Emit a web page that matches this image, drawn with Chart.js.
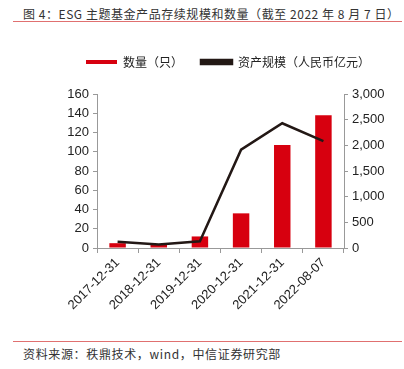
<!DOCTYPE html>
<html>
<head>
<meta charset="utf-8">
<script src="https://cdn.jsdelivr.net/npm/chart.js@4"></script>
<style>
  body { margin: 0; width: 404px; height: 369px; background: #fff; position: relative; overflow: hidden; font-family: "Noto Sans CJK SC", sans-serif; }
  #title { position: absolute; left: 23px; top: 5px; font-size: 12px; letter-spacing: 0.55px; color: #333; white-space: nowrap; }
  .rule { position: absolute; left: 13px; width: 389px; height: 1px; background: #e07070; }
  #source { position: absolute; left: 23px; top: 345px; font-size: 12px; letter-spacing: 0.65px; color: #333; white-space: nowrap; }
  #wrap { position: absolute; left: 0; top: 30px; width: 404px; height: 310px; }
</style>
</head>
<body>
<div id="title">图 4：ESG 主题基金产品存续规模和数量（截至 2022 年 8 月 7 日）</div>
<div class="rule" style="top:21px"></div>
<div id="wrap"><canvas id="chart"></canvas></div>
<div class="rule" style="top:341px"></div>
<div id="source">资料来源：秩鼎技术，wind，中信证券研究部</div>
<script>
const labels = ["2017-12-31", "2018-12-31", "2019-12-31", "2020-12-31", "2021-12-31", "2022-08-07"];
const fundCount = [5, 4, 12, 36, 107, 138];
const fundScale = [120, 70, 130, 1915, 2430, 2080];

const tickFont = { family: "'Liberation Sans', Arial, sans-serif", size: 13 };

// extra room under the legend, and legend centred over the plot instead of the canvas
const legendTweak = {
  id: "legendTweak",
  beforeInit(chart) {
    const legend = chart.legend;
    const fit = legend.fit;
    legend.fit = function () {
      fit.call(legend);
      this.height += 16;
    };
    const draw = legend.draw;
    legend.draw = function () {
      const ctx = chart.ctx;
      ctx.save();
      ctx.translate(26, 0);
      draw.call(legend);
      ctx.restore();
    };
  },
};

new Chart(document.getElementById("chart"), {
  type: "bar",
  data: {
    labels,
    datasets: [
      {
        label: "数量（只）",
        data: fundCount,
        backgroundColor: "#d7000f",
        borderWidth: 0,
        barPercentage: 0.5,
        categoryPercentage: 0.8,
        yAxisID: "y",
        order: 2,
      },
      {
        type: "line",
        label: "资产规模（人民币亿元）",
        data: fundScale,
        borderColor: "#231815",
        backgroundColor: "#231815",
        borderWidth: 2.5,
        pointRadius: 0,
        tension: 0,
        yAxisID: "y1",
        order: 1,
      },
    ],
  },
  plugins: [legendTweak],
  options: {
    responsive: true,
    maintainAspectRatio: false,
    animation: false,
    layout: { padding: { top: 8, left: 0, right: 0, bottom: 0 } },
    plugins: {
      legend: {
        display: true,
        labels: {
          boxWidth: 31,
          boxHeight: 4,
          padding: 18,
          color: "#222",
          font: { family: "'Noto Sans CJK SC', sans-serif", size: 12 },
          sort: (a, b) => a.datasetIndex - b.datasetIndex,
        },
      },
      tooltip: { enabled: false },
    },
    scales: {
      x: {
        offset: true,
        grid: { drawOnChartArea: false, drawTicks: true, tickLength: 5, color: "#999", offset: true },
        border: { color: "#999" },
        ticks: { maxRotation: 45, minRotation: 45, color: "#222", font: tickFont, padding: 2 },
        afterFit: (s) => { s.height = 92; },
      },
      y: {
        position: "left",
        min: 0,
        max: 160,
        grid: { drawOnChartArea: false, tickLength: 4, color: "#999" },
        border: { color: "#999" },
        ticks: { stepSize: 20, color: "#222", font: tickFont, padding: 4 },
        afterFit: (s) => { s.width = 97; },
      },
      y1: {
        position: "right",
        min: 0,
        max: 3000,
        grid: { drawOnChartArea: false, tickLength: 4, color: "#999" },
        border: { color: "#999" },
        ticks: { stepSize: 500, color: "#222", font: tickFont, padding: 4 },
        afterFit: (s) => { s.width = 60; },
      },
    },
  },
});
</script>
</body>
</html>
